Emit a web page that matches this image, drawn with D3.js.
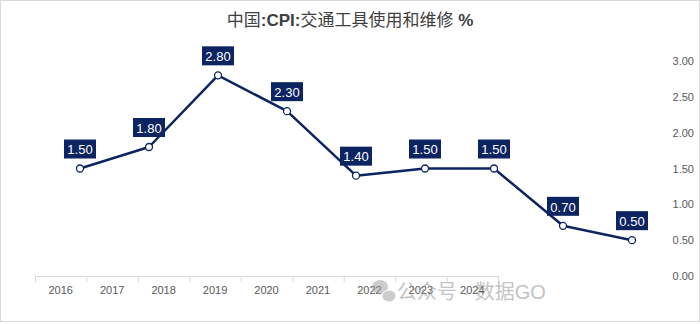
<!DOCTYPE html>
<html>
<head>
<meta charset="utf-8">
<script src="https://cdn.jsdelivr.net/npm/d3@7"></script>
<style>
  body { margin: 0; background: #fff; }
  text { font-family: "Liberation Sans", "Noto Sans CJK SC", sans-serif; }
</style>
</head>
<body>
<div id="chart"></div>
<script>
var years = ["2016", "2017", "2018", "2019", "2020", "2021", "2022", "2023", "2024"];
var values = [1.50, 1.80, 2.80, 2.30, 1.40, 1.50, 1.50, 0.70, 0.50];
var yTicks = [0, 0.5, 1, 1.5, 2, 2.5, 3];

var w = 700, h = 324;
var navy = "#0c2461";

var svg = d3.select("#chart").append("svg")
    .attr("width", w)
    .attr("height", h);

// outer border
svg.append("rect")
   .attr("x", 0.5).attr("y", 0.5)
   .attr("width", w - 1).attr("height", h - 3)
   .attr("fill", "#fff")
   .attr("stroke", "#d9d9d9");

// category axis (bands)
var xBand = d3.scaleBand()
    .domain(years)
    .range([35, 498]);

// line positions
var xPoint = d3.scalePoint()
    .domain(years)
    .range([80, 632]);

var yScale = d3.scaleLinear()
    .domain([0, 3])
    .range([276, 61]);

// x axis
var xAxis = svg.append("g")
   .attr("transform", "translate(0,276)")
   .call(d3.axisBottom(xBand).tickSize(0).tickPadding(10));
xAxis.select(".domain").attr("stroke", "#d9d9d9");
xAxis.selectAll("text")
   .attr("fill", "#595959")
   .attr("font-size", "11px")
   .attr("font-family", "'DejaVu Sans Condensed', 'Liberation Sans Narrow', sans-serif");

// tick marks at band edges
var edges = years.map(function(d){ return xBand(d); }).concat([xBand.range()[1]]);
svg.selectAll("line.edge")
   .data(edges)
   .enter()
   .append("line")
   .attr("class", "edge")
   .attr("x1", function(d){ return d + 0.5; })
   .attr("x2", function(d){ return d + 0.5; })
   .attr("y1", 276)
   .attr("y2", 282)
   .attr("stroke", "#d9d9d9");

// right y axis labels
var yAxis = svg.append("g")
   .attr("transform", "translate(694,0)")
   .call(d3.axisRight(yScale).tickValues(yTicks).tickSize(0).tickPadding(0)
          .tickFormat(d3.format(".2f")));
yAxis.select(".domain").remove();
yAxis.selectAll("text")
   .attr("text-anchor", "end")
   .attr("fill", "#595959")
   .attr("font-size", "11px");

// line
var line = d3.line()
    .x(function(d, i){ return xPoint(years[i]); })
    .y(function(d){ return yScale(d); });

svg.append("path")
   .datum(values)
   .attr("d", line)
   .attr("fill", "none")
   .attr("stroke", navy)
   .attr("stroke-width", 2.5)
   .attr("stroke-linejoin", "round");

// markers
svg.selectAll("circle.pt")
   .data(values)
   .enter()
   .append("circle")
   .attr("class", "pt")
   .attr("cx", function(d, i){ return xPoint(years[i]); })
   .attr("cy", function(d){ return yScale(d); })
   .attr("r", 3.5)
   .attr("fill", "#fff")
   .attr("stroke", navy)
   .attr("stroke-width", 1.3);

// data labels
var labels = svg.selectAll("g.lbl")
   .data(values)
   .enter()
   .append("g")
   .attr("class", "lbl")
   .attr("transform", function(d, i){
       return "translate(" + xPoint(years[i]) + "," + (yScale(d) - 19) + ")";
   });

labels.append("rect")
   .attr("x", -16).attr("y", -10)
   .attr("width", 32).attr("height", 19)
   .attr("fill", navy);

labels.append("text")
   .attr("text-anchor", "middle")
   .attr("dy", "0.36em")
   .attr("fill", "#fff")
   .attr("font-size", "13px")
   .attr("font-family", "'Open Sans', sans-serif")
   .text(function(d){ return d3.format(".2f")(d); });

// title
var title = svg.append("text")
   .attr("x", 350)
   .attr("y", 26)
   .attr("text-anchor", "middle")
   .attr("fill", "#404040")
   .attr("font-size", "17px");
title.append("tspan").attr("font-family", "'Noto Sans CJK SC'").text("中国");
title.append("tspan").attr("font-weight", "bold").text(":CPI:");
title.append("tspan").attr("font-family", "'Noto Sans CJK SC'").text("交通工具使用和维修");
title.append("tspan").attr("font-weight", "bold").text(" %");

// watermark
var wm = svg.append("g").attr("opacity", 0.5);
wm.append("ellipse").attr("cx", 380).attr("cy", 287).attr("rx", 8).attr("ry", 7).attr("fill", "#9a9a9a");
wm.append("ellipse").attr("cx", 389).attr("cy", 296).attr("rx", 7).attr("ry", 6).attr("fill", "#9a9a9a").attr("stroke", "#fff");
wm.append("text")
   .attr("x", 397).attr("y", 299)
   .attr("fill", "#8a8a8a")
   .attr("font-size", "20px")
   .attr("font-family", "'Noto Sans CJK SC'")
   .text("公众号 · 数据GO");
</script>
</body>
</html>
